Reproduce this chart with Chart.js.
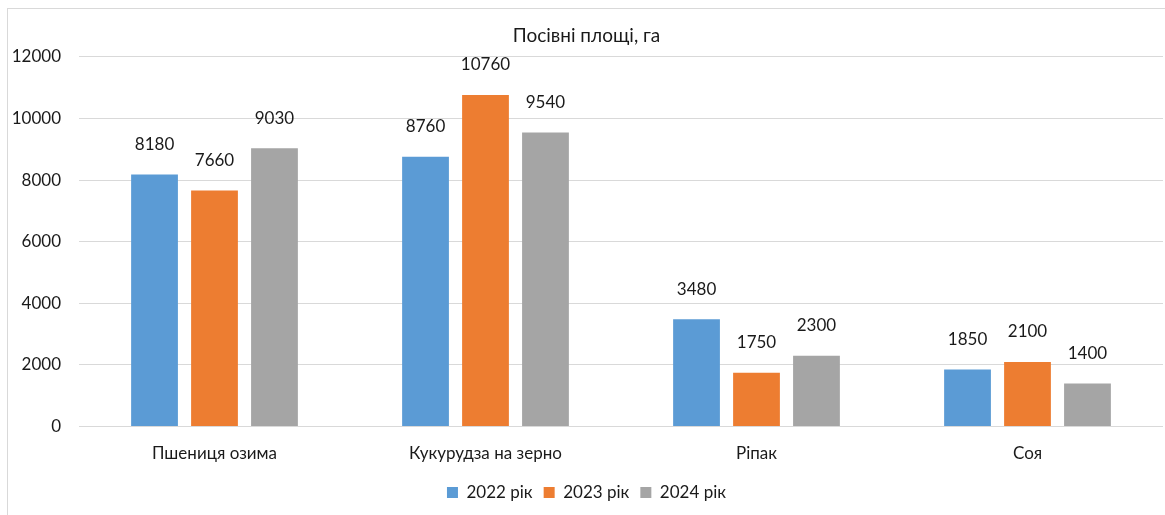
<!DOCTYPE html>
<html>
<head>
<meta charset="utf-8">
<script src="https://cdn.jsdelivr.net/npm/chart.js@4/dist/chart.umd.min.js"></script>
<style>
  html, body { margin: 0; padding: 0; background: #fff; }
  #wrap { position: relative; width: 1165px; height: 515px; }
  #frame { position: absolute; left: 7px; top: 8px; width: 1170px; height: 520px; border: 1px solid #d9d9d9; box-sizing: border-box; }
  canvas { position: absolute; left: 0; top: 0; }
</style>
</head>
<body>
<div id="wrap">
  <div id="frame"></div>
  <canvas id="cropChart" width="1165" height="515"></canvas>
</div>
<script>
var categories = ['Пшениця озима', 'Кукурудза на зерно', 'Ріпак', 'Соя'];
var years = ['2022 рік', '2023 рік', '2024 рік'];
var values2022 = [8180, 8760, 3480, 1850];
var values2023 = [7660, 10760, 1750, 2100];
var values2024 = [9030, 9540, 2300, 1400];
var yTicks = [0, 2000, 4000, 6000, 8000, 10000, 12000];

var FONT = 'Lato, "Noto Sans", sans-serif';

// value labels above each bar
var barLabels = {
    id: 'barLabels',
    afterDatasetsDraw: function(chart) {
        var ctx = chart.ctx;
        ctx.save();
        ctx.font = '17px ' + FONT;
        ctx.fillStyle = '#1a1a1a';
        ctx.textAlign = 'center';
        ctx.textBaseline = 'middle';
        chart.data.datasets.forEach(function(ds, i) {
            chart.getDatasetMeta(i).data.forEach(function(bar, j) {
                ctx.fillText(ds.data[j], bar.x, bar.y - 30);
            });
        });
        ctx.restore();
    }
};

document.addEventListener('DOMContentLoaded', function() {
    var ctx = document.getElementById('cropChart').getContext('2d');
    new Chart(ctx, {
        type: 'bar',
        data: {
            labels: categories,
            datasets: [
                { label: years[0], data: values2022, backgroundColor: '#5B9BD5' },
                { label: years[1], data: values2023, backgroundColor: '#ED7D31' },
                { label: years[2], data: values2024, backgroundColor: '#A5A5A5' }
            ]
        },
        options: {
            responsive: false,
            animation: false,
            categoryPercentage: 0.664,
            barPercentage: 0.78,
            layout: { padding: { left: 10, right: 2, top: 10, bottom: 4 } },
            scales: {
                x: {
                    grid: { display: false },
                    border: { display: false },
                    ticks: { color: '#1a1a1a', font: { family: FONT, size: 17 }, padding: 9 }
                },
                y: {
                    min: 0,
                    max: 12000,
                    afterBuildTicks: function(axis) {
                        axis.ticks = yTicks.map(function(v) { return { value: v }; });
                    },
                    afterFit: function(axis) { axis.width = 69; },
                    grid: { color: '#d9d9d9', drawTicks: false },
                    border: { display: false },
                    ticks: {
                        color: '#1a1a1a',
                        font: { family: FONT, size: 17 },
                        padding: 18,
                        callback: function(v) { return String(v); }
                    }
                }
            },
            plugins: {
                title: {
                    display: true,
                    text: 'Посівні площі, га',
                    color: '#1a1a1a',
                    font: { family: FONT, size: 19, weight: 'normal' },
                    padding: { top: 14, bottom: 10 }
                },
                legend: {
                    position: 'bottom',
                    labels: {
                        color: '#1a1a1a',
                        font: { family: FONT, size: 17 },
                        boxWidth: 11,
                        boxHeight: 11,
                        padding: 11
                    }
                },
                tooltip: { enabled: false }
            }
        },
        plugins: [barLabels]
    });
});
</script>
</body>
</html>
